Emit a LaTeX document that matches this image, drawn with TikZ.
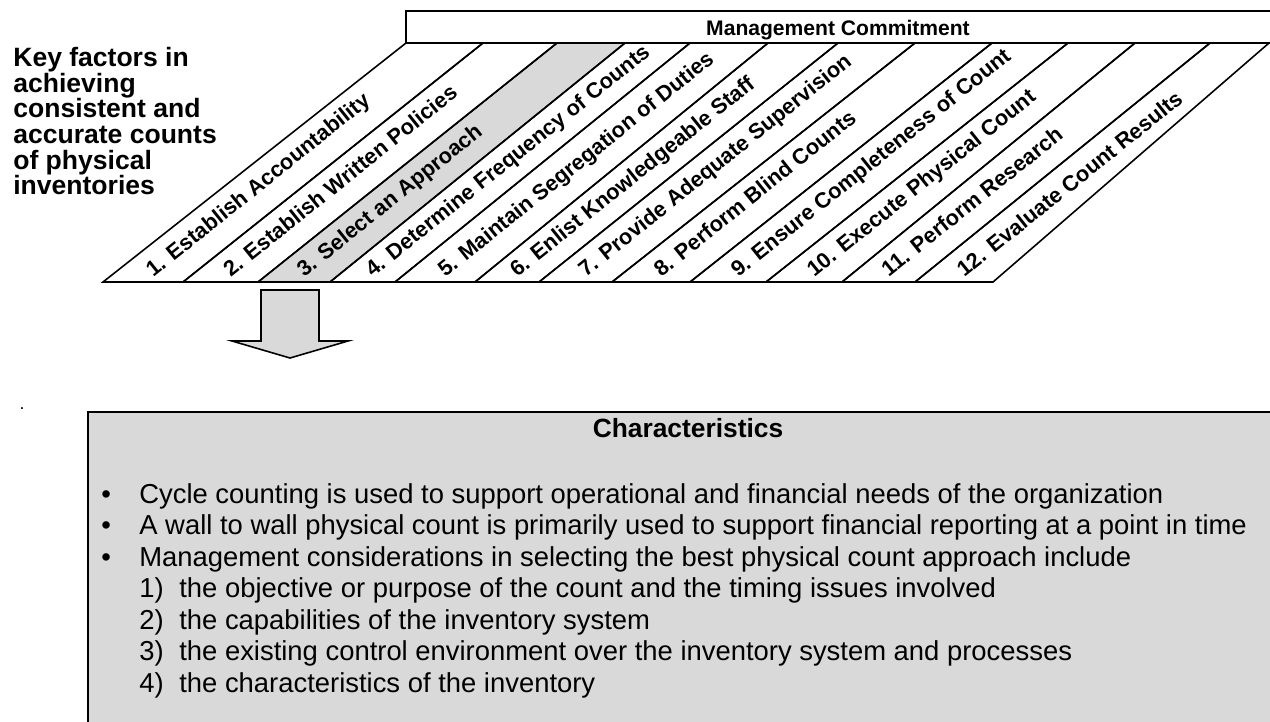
\documentclass[tikz,border=0pt]{standalone}
\usepackage{fontspec}
\setmainfont{Liberation Sans}
\definecolor{boxgray}{RGB}{217,217,217}

\begin{document}
\begin{tikzpicture}[x=0.02cm,y=-0.02cm,
  band/.style={line width=0.9pt},
  factor/.style={anchor=base west,rotate=38.7,inner sep=0pt,font=\bfseries\fontsize{12.4}{14}\selectfont},
  body/.style={anchor=base west,inner sep=0pt,font=\fontsize{15.6}{18}\selectfont}]
\useasboundingbox (0,0) rectangle (1270,721);
\clip (0,0) rectangle (1270,721);
% title
\foreach \t [count=\k] in {Key factors in,achieving,consistent and,accurate counts,of physical,inventories}
  \node[anchor=base west,inner sep=0pt,font=\bfseries\fontsize{15.1}{15}\selectfont] (title\k) at (13,{41+25.6*\k}) {\t};
% management commitment
\draw[line width=1.1pt] (406,11) rectangle (1285,43);
\node[anchor=base,font=\bfseries\fontsize{12}{14}\selectfont] (mc) at (838,35) {Management Commitment};
% the twelve factors
\fill[boxgray] (258,282)--(330,282)--(625,43)--(557,43)--cycle;
\foreach \xa/\xb/\ta/\tb/\lab [count=\i] in {
  103/183/406/483/{1. Establish Accountability},
  183/258/483/557/{2. Establish Written Policies},
  258/330/557/625/{3. Select an Approach},
  330/395/625/690/{4. Determine Frequency of Counts},
  395/475/690/768/{5. Maintain Segregation of Duties},
  475/539/768/838/{6. Enlist Knowledgeable Staff},
  539/612/838/915/{7. Provide Adequate Supervision},
  612/690/915/992/{8. Perform Blind Counts},
  690/766/992/1068/{9. Ensure Completeness of Count},
  766/842/1068/1135/{10. Execute Physical Count},
  842/915/1135/1210/{11. Perform Research},
  915/993/1210/1269/{12. Evaluate Count Results}}{
  \draw[band] (\xa,282)--(\xb,282)--(\tb,43)--(\ta,43)--cycle;
  \node[factor] (f\i) at ({(\xa+\xb)/2+10},278) {\lab};
}
% arrow
\filldraw[fill=boxgray,line width=0.9pt] (261,290)--(319,290)--(319,341)--(348,341)--(290,358)--(232,341)--(261,341)--cycle;
\node[inner sep=0pt,anchor=base] (dot) at (22,409) {.};
% characteristics
\filldraw[fill=boxgray,line width=1.1pt] (88,412) rectangle (1285,735);
\node[anchor=base,font=\bfseries\fontsize{15}{18}\selectfont] (head) at (688,437) {Characteristics};
\foreach \t [count=\k] in {Cycle counting is used to support operational and financial needs of the organization,
  A wall to wall physical count is primarily used to support financial reporting at a point in time,
  Management considerations in selecting the best physical count approach include}{
  \node[body] (b\k) at (101,{471.5+31.5*\k}) {\textbullet};
  \node[body] (l\k) at (139,{471.5+31.5*\k}) {\t};
}
\foreach \t [count=\k] in {the objective or purpose of the count and the timing issues involved,
  the capabilities of the inventory system,
  the existing control environment over the inventory system and processes,
  the characteristics of the inventory}{
  \node[body] (n\k) at (139,{566+31.5*\k}) {\k)};
  \node[body] (s\k) at (179,{566+31.5*\k}) {\t};
}
\end{tikzpicture}
\end{document}
